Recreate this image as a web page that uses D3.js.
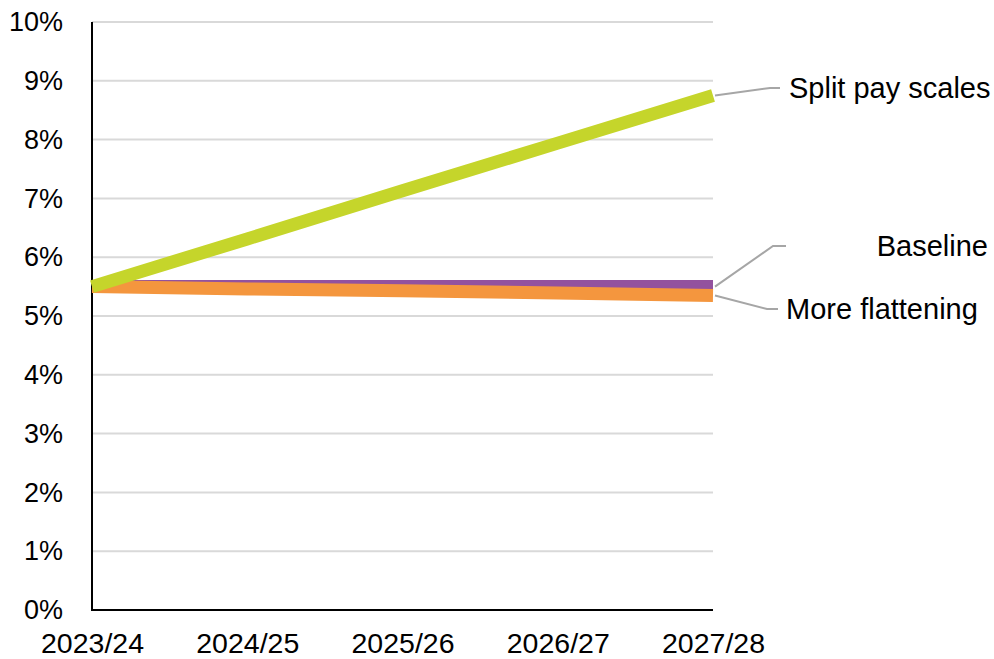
<!DOCTYPE html>
<html>
<head>
<meta charset="utf-8">
<script src="https://cdn.jsdelivr.net/npm/d3@7"></script>
<style>
  html, body { margin: 0; padding: 0; background: #fff; }
  svg { display: block; font-family: "Liberation Sans", Arial, sans-serif; }
</style>
</head>
<body>
<svg id="chart" width="994" height="659"></svg>
<script>
// Academic years on the x axis
const years = ["2023/24", "2024/25", "2025/26", "2026/27", "2027/28"];

// Pay bill growth (%) under each scenario
const baseline = [5.5, 5.5, 5.5, 5.5, 5.5];
const moreFlattening = [5.5, 5.46, 5.43, 5.39, 5.35];
const splitPayScales = [5.5, 6.31, 7.13, 7.94, 8.75];

const yTicks = [0, 1, 2, 3, 4, 5, 6, 7, 8, 9, 10];

const seriesNames = ["Baseline", "More flattening", "Split pay scales"];
const seriesColors = ["#93529e", "#f4963e", "#c5d52b"];

const svg = d3.select("#chart");
const margin = { left: 92, right: 281, top: 22, bottom: 49 };
const W = 994, H = 659;

const x = d3.scalePoint().domain(years).range([margin.left, W - margin.right]);
const y = d3.scaleLinear().domain([0, 10]).range([H - margin.bottom, margin.top]);

// Horizontal gridlines
svg.append("g")
  .selectAll("line")
  .data(yTicks.filter(t => t > 0))
  .join("line")
  .attr("x1", margin.left).attr("x2", W - margin.right)
  .attr("y1", d => y(d)).attr("y2", d => y(d))
  .attr("stroke", "#d9d9d9").attr("stroke-width", 2);

// Y axis labels
const yAxis = d3.axisLeft(y).tickValues(yTicks).tickFormat(d => d + "%").tickSize(0).tickPadding(29);
const gy = svg.append("g").attr("transform", `translate(${margin.left},0)`).call(yAxis);
gy.select(".domain").remove();
gy.selectAll("text").attr("font-size", 27).attr("fill", "#000").attr("font-family", "Liberation Sans, Arial, sans-serif");

// X axis labels
const xAxis = d3.axisBottom(x).tickSize(0).tickPadding(23);
const gx = svg.append("g").attr("transform", `translate(0,${y(0)})`).call(xAxis);
gx.select(".domain").remove();
gx.selectAll("text").attr("font-size", 28.5).attr("fill", "#000").attr("font-family", "Liberation Sans, Arial, sans-serif");

// Axis lines
svg.append("line")
  .attr("x1", margin.left).attr("x2", margin.left)
  .attr("y1", y(10)).attr("y2", y(0) + 1)
  .attr("stroke", "#000").attr("stroke-width", 2);
svg.append("line")
  .attr("x1", margin.left - 1).attr("x2", W - margin.right)
  .attr("y1", y(0)).attr("y2", y(0))
  .attr("stroke", "#000").attr("stroke-width", 2);

// Scenario lines
const seriesData = [baseline, moreFlattening, splitPayScales];
const line = d3.line().x((d, i) => x(years[i])).y(d => y(d));
svg.append("g")
  .selectAll("path")
  .data(seriesData)
  .join("path")
  .attr("d", d => line(d))
  .attr("fill", "none")
  .attr("stroke", (d, i) => seriesColors[i])
  .attr("stroke-width", 13)
  .attr("stroke-linecap", "butt")
  .attr("stroke-linejoin", "round");

// Direct labels with leader lines
const last = years.length - 1;
const labelPos = [
  { elbow: [773, 246], endX: 786, tx: 988, anchor: "end" },
  { elbow: [767, 309], endX: 778, tx: 786, anchor: "start" },
  { elbow: [770, 88], endX: 780, tx: 789, anchor: "start" }
];
const labels = svg.append("g");
seriesData.forEach((d, i) => {
  const p = labelPos[i];
  const x0 = x(years[last]) + 2, y0 = y(d[last]);
  labels.append("polyline")
    .attr("points", `${x0},${y0} ${p.elbow[0]},${p.elbow[1]} ${p.endX},${p.elbow[1]}`)
    .attr("fill", "none").attr("stroke", "#a6a6a6").attr("stroke-width", 2);
  labels.append("text")
    .attr("x", p.tx).attr("y", p.elbow[1])
    .attr("dy", "0.35em")
    .attr("text-anchor", p.anchor)
    .attr("font-size", 29)
    .attr("fill", "#000")
    .text(seriesNames[i]);
});
</script>
</body>
</html>
